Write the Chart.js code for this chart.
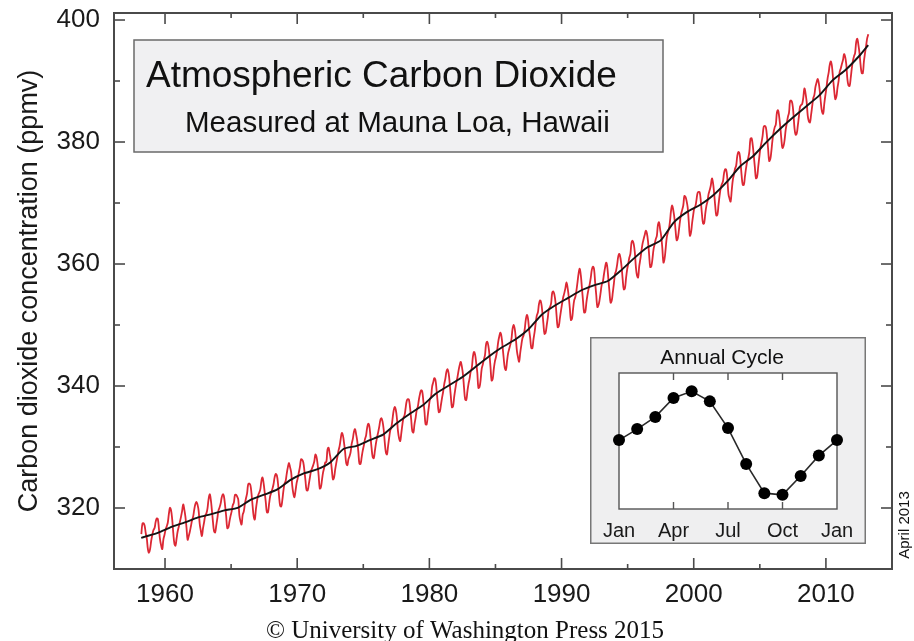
<!DOCTYPE html>
<html><head><meta charset="utf-8">
<script src="https://cdn.jsdelivr.net/npm/chart.js@4.4.1/dist/chart.umd.min.js"></script>
<style>
html,body{margin:0;padding:0;background:#fff;}
#wrap{position:relative;width:914px;height:641px;overflow:hidden;}
#main{position:absolute;left:0;top:0;}
#inset{position:absolute;left:590px;top:337px;}
</style></head><body>
<div id="wrap"><canvas id="main" width="914" height="641"></canvas><canvas id="inset" width="276" height="207"></canvas></div>
<script>
// ---------------- DATA ----------------
// Monthly mean CO2 at Mauna Loa (ppmv), starting March 1958
const monthlyStartYear = 1958;
const monthlyStartMonth = 3;
const co2Monthly = [
  315.71, 317.45, 317.50, 317.10, 315.86, 314.93, 313.20, 312.66, 313.33, 314.67,
  315.62, 316.38, 316.71, 317.72, 318.29, 318.15, 316.54, 314.80, 313.84, 313.26, 314.80, 315.58,
  316.43, 316.97, 317.58, 319.02, 320.03, 319.59, 318.18, 315.91, 314.16, 313.83, 315.00, 316.19,
  316.93, 317.70, 318.54, 319.48, 320.58, 319.77, 318.57, 316.79, 314.80, 315.38, 316.10, 317.01,
  317.94, 318.56, 319.68, 320.63, 321.01, 320.55, 319.58, 317.40, 316.26, 315.42, 316.69, 317.69,
  318.74, 319.08, 319.86, 321.39, 322.25, 321.47, 319.74, 317.77, 316.21, 315.99, 317.12, 318.31,
  319.57, 320.07, 320.73, 321.77, 322.25, 321.89, 320.44, 318.70, 316.70, 316.79, 317.79, 318.71,
  319.44, 320.44, 320.89, 322.13, 322.16, 321.87, 321.39, 318.81, 317.81, 317.30, 318.87, 319.42,
  320.62, 321.59, 322.39, 323.87, 324.01, 323.75, 322.39, 320.37, 318.64, 318.10, 319.79, 321.08,
  322.07, 322.50, 323.04, 324.42, 325.00, 324.09, 322.55, 320.92, 319.31, 319.31, 320.72, 321.96,
  322.57, 323.15, 323.89, 325.02, 325.57, 325.36, 324.14, 322.03, 320.41, 320.25, 321.31, 322.84,
  324.00, 324.42, 325.64, 326.66, 327.38, 326.70, 325.89, 323.67, 322.38, 321.78, 322.85, 324.11,
  324.89, 325.82, 326.77, 327.97, 327.91, 327.50, 326.18, 324.53, 322.93, 322.90, 323.85, 324.96,
  326.01, 326.51, 327.01, 327.62, 328.76, 328.40, 327.20, 325.27, 323.20, 323.40, 324.63, 325.85,
  326.60, 327.47, 327.58, 329.56, 329.90, 328.92, 327.88, 326.16, 324.68, 325.04, 326.34, 327.39,
  328.37, 329.40, 330.14, 331.33, 332.31, 331.90, 330.70, 329.15, 327.35, 327.02, 327.99, 328.48,
  329.18, 330.55, 331.32, 332.48, 332.92, 332.08, 331.01, 329.23, 327.27, 327.21, 328.29, 329.41,
  330.23, 331.25, 331.87, 333.14, 333.80, 333.43, 331.73, 329.90, 328.40, 328.17, 329.32, 330.59,
  331.58, 332.39, 333.33, 334.41, 334.71, 334.17, 332.89, 330.77, 329.14, 328.78, 330.14, 331.52,
  332.75, 333.24, 334.53, 335.90, 336.57, 336.10, 334.76, 332.59, 331.42, 330.98, 332.24, 333.68,
  334.80, 335.22, 336.47, 337.59, 337.84, 337.72, 336.37, 334.51, 332.60, 332.38, 333.75, 334.78,
  336.05, 336.59, 337.79, 338.71, 339.30, 339.12, 337.56, 335.92, 333.75, 333.70, 335.12, 336.56,
  337.84, 338.19, 339.91, 340.60, 341.29, 341.00, 339.39, 337.43, 335.72, 335.84, 336.93, 338.04,
  339.06, 340.30, 341.21, 342.33, 342.74, 342.08, 340.32, 338.26, 336.52, 336.68, 338.19, 339.44,
  340.57, 341.44, 342.53, 343.39, 343.96, 343.18, 341.88, 339.65, 337.81, 337.69, 339.09, 340.32,
  341.20, 342.35, 342.93, 344.77, 345.58, 345.14, 343.81, 342.21, 339.69, 339.82, 340.98, 342.82,
  343.52, 344.33, 345.11, 346.88, 347.25, 346.62, 345.22, 343.11, 340.90, 341.17, 342.80, 344.04,
  344.79, 345.82, 347.25, 348.17, 348.74, 348.07, 346.38, 344.51, 342.92, 342.62, 344.06, 345.38,
  346.11, 346.78, 347.68, 349.37, 350.03, 349.37, 347.76, 345.73, 344.68, 343.99, 345.48, 346.72,
  347.84, 348.29, 349.23, 350.80, 351.66, 351.07, 349.33, 347.92, 346.27, 346.18, 347.64, 348.78,
  350.25, 351.54, 352.05, 353.41, 354.04, 353.62, 352.22, 350.27, 348.55, 348.72, 349.91, 351.18,
  352.60, 352.92, 353.53, 355.26, 355.52, 354.97, 353.75, 351.52, 349.64, 349.83, 351.14, 352.37,
  353.50, 354.55, 355.23, 356.04, 357.00, 356.07, 354.67, 352.76, 350.82, 351.04, 352.69, 354.07,
  354.59, 355.63, 357.03, 358.48, 359.22, 358.12, 356.06, 353.92, 352.05, 352.11, 353.64, 354.89,
  355.88, 356.63, 357.72, 359.07, 359.58, 359.17, 356.94, 354.92, 352.94, 353.23, 354.09, 355.33,
  356.63, 357.10, 358.32, 359.41, 360.23, 359.55, 357.53, 355.48, 353.67, 353.95, 355.30, 356.78,
  358.34, 358.89, 359.95, 361.25, 361.67, 360.94, 359.55, 357.49, 355.84, 356.00, 357.59, 359.05,
  359.98, 361.03, 361.66, 363.48, 363.82, 363.30, 361.94, 359.50, 358.11, 357.80, 359.61, 360.74,
  362.09, 363.29, 364.06, 364.76, 365.45, 365.01, 363.70, 361.54, 359.51, 359.65, 360.80, 362.38,
  363.23, 364.06, 364.61, 366.40, 366.84, 365.68, 364.52, 362.57, 360.24, 360.83, 362.49, 364.34,
  365.17, 365.78, 367.10, 368.87, 369.59, 368.75, 367.49, 365.56, 363.90, 364.23, 365.46, 366.97,
  368.15, 368.87, 369.59, 371.14, 371.00, 370.35, 369.27, 366.93, 364.64, 365.13, 366.68, 368.00,
  369.14, 369.46, 370.52, 371.66, 371.82, 371.70, 370.12, 368.12, 366.62, 366.73, 368.29, 369.53,
  370.28, 371.50, 372.12, 372.87, 374.02, 373.30, 371.62, 369.55, 367.96, 368.09, 369.68, 371.24,
  372.44, 373.08, 373.52, 374.85, 375.55, 375.40, 374.02, 371.49, 370.71, 370.24, 372.08, 373.78,
  374.68, 375.62, 376.11, 377.65, 378.35, 378.13, 376.62, 374.50, 372.99, 373.00, 374.35, 375.70,
  376.79, 377.37, 378.41, 380.52, 380.63, 379.57, 377.79, 375.86, 374.06, 374.24, 375.86, 377.48,
  378.98, 379.91, 380.95, 382.48, 382.64, 382.40, 380.93, 378.93, 376.89, 377.19, 378.54, 380.31,
  381.58, 382.40, 382.86, 384.80, 385.22, 384.24, 382.65, 380.60, 379.04, 379.33, 380.35, 382.02,
  383.10, 384.12, 384.81, 386.73, 386.78, 386.33, 384.73, 382.24, 381.20, 381.37, 382.70, 384.19,
  385.78, 386.06, 386.28, 387.33, 388.78, 387.99, 386.61, 384.32, 383.41, 383.21, 384.41, 385.79,
  387.17, 387.70, 389.04, 389.76, 390.36, 389.70, 388.24, 386.29, 384.95, 384.64, 386.23, 387.63,
  388.91, 390.41, 391.37, 392.67, 393.21, 392.38, 390.41, 388.54, 387.03, 387.43, 388.87, 389.99,
  391.50, 392.05, 392.80, 393.44, 394.41, 393.95, 392.72, 390.33, 389.28, 389.19, 390.48, 392.06,
  393.31, 394.04, 394.59, 396.38, 396.93, 395.91, 394.56, 392.59, 391.32, 391.27, 393.20, 394.57,
  395.78, 397.03, 397.66
];

// Seasonally adjusted trend (black line): decimal years and values
const trendYears = [1958.2, 1958.5, 1959.5, 1960.5, 1961.5, 1962.5, 1963.5, 1964.5, 1965.5, 1966.5, 1967.5,
  1968.5, 1969.5, 1970.5, 1971.5, 1972.5, 1973.5, 1974.5, 1975.5, 1976.5, 1977.5,
  1978.5, 1979.5, 1980.5, 1981.5, 1982.5, 1983.5, 1984.5, 1985.5, 1986.5, 1987.5,
  1988.5, 1989.5, 1990.5, 1991.5, 1992.5, 1993.5, 1994.5, 1995.5, 1996.5, 1997.5,
  1998.5, 1999.5, 2000.5, 2001.5, 2002.5, 2003.5, 2004.5, 2005.5, 2006.5, 2007.5,
  2008.5, 2009.5, 2010.5, 2011.5, 2012.5, 2013.2];
const trendValues = [315.1, 315.3, 315.98, 316.91, 317.64, 318.45, 318.99, 319.62, 320.04, 321.37, 322.18,
  323.05, 324.62, 325.68, 326.32, 327.46, 329.68, 330.19, 331.13, 332.03, 333.84,
  335.41, 336.84, 338.76, 340.12, 341.48, 343.15, 344.85, 346.35, 347.61, 349.31,
  351.69, 353.20, 354.45, 355.70, 356.54, 357.21, 358.96, 360.97, 362.74, 363.88,
  366.84, 368.54, 369.71, 371.32, 373.45, 375.98, 377.70, 379.98, 382.09, 384.02,
  385.83, 387.64, 390.10, 391.85, 394.06, 395.9];

// Axis ticks
const xTickLabels = [1960, 1970, 1980, 1990, 2000, 2010];
const xMinorTicks = [1965, 1975, 1985, 1995, 2005];
const yTickLabels = [320, 340, 360, 380, 400];
const yMinorTicks = [330, 350, 370, 390];

// Inset: average annual cycle (ppmv deviation)
const insetMonths = ['Jan','Feb','Mar','Apr','May','Jun','Jul','Aug','Sep','Oct','Nov','Dec','Jan'];
const insetValues = [0.08, 0.74, 1.47, 2.6, 3.0, 2.4, 0.8, -1.35, -3.1, -3.2, -2.07, -0.85, 0.08];
const insetShownLabels = [0, 3, 6, 9, 12];
const insetTickMarks = [3, 6, 9];

// Texts
const titleText = 'Atmospheric Carbon Dioxide';
const subtitleText = 'Measured at Mauna Loa, Hawaii';
const yAxisTitle = 'Carbon dioxide concentration (ppmv)';
const insetTitle = 'Annual Cycle';
const stampText = 'April 2013';
const creditText = '\u00A9 University of Washington Press 2015';

// ---------------- BUILD ----------------
const SANS = '"Liberation Sans", Arial, Helvetica, sans-serif';
const SERIF = '"Liberation Serif", "DejaVu Serif", serif';
const monthlyPoints = co2Monthly.map((v, i) => ({ x: monthlyStartYear + (monthlyStartMonth - 1 + i + 0.5) / 12, y: v }));
const trendPoints = trendValues.map((v, i) => ({ x: trendYears[i], y: v }));

function seg(ctx, x1, y1, x2, y2) { ctx.beginPath(); ctx.moveTo(x1, y1); ctx.lineTo(x2, y2); ctx.stroke(); }

const mainDecor = {
  id: 'mainDecor',
  beforeDatasetsDraw(chart) {
    const ctx = chart.ctx;
    ctx.save();
    ctx.fillStyle = '#f0f0f2';
    ctx.strokeStyle = '#6a6a6a';
    ctx.lineWidth = 1.5;
    ctx.fillRect(134, 40, 529, 112);
    ctx.strokeRect(134, 40, 529, 112);
    ctx.fillStyle = '#111';
    ctx.textAlign = 'left';
    ctx.textBaseline = 'alphabetic';
    ctx.font = '37px ' + SANS;
    ctx.fillText(titleText, 146, 87);
    ctx.font = '29.5px ' + SANS;
    ctx.fillText(subtitleText, 185, 132);
    ctx.restore();
  },
  afterDatasetsDraw(chart) {
    const ctx = chart.ctx;
    const { left, right, top, bottom } = chart.chartArea;
    const xs = chart.scales.x, ys = chart.scales.y;
    ctx.save();
    ctx.strokeStyle = '#4a4a4a';
    ctx.lineWidth = 1.6;
    xTickLabels.forEach(v => { const p = xs.getPixelForValue(v); seg(ctx, p, bottom, p, bottom - 11); seg(ctx, p, top, p, top + 11); });
    xMinorTicks.forEach(v => { const p = xs.getPixelForValue(v); seg(ctx, p, bottom, p, bottom - 5); seg(ctx, p, top, p, top + 5); });
    yTickLabels.forEach(v => { const p = ys.getPixelForValue(v); seg(ctx, left, p, left + 11, p); seg(ctx, right, p, right - 11, p); });
    yMinorTicks.forEach(v => { const p = ys.getPixelForValue(v); seg(ctx, left, p, left + 6, p); seg(ctx, right, p, right - 6, p); });
    ctx.lineWidth = 2;
    ctx.strokeRect(left, top, right - left, bottom - top);
    ctx.restore();
  },
  afterDraw(chart) {
    const ctx = chart.ctx;
    ctx.save();
    ctx.fillStyle = '#111';
    ctx.font = '25px ' + SERIF;
    ctx.textAlign = 'center';
    ctx.textBaseline = 'alphabetic';
    ctx.fillText(creditText, 465, 638);
    ctx.translate(905, 525);
    ctx.rotate(-Math.PI / 2);
    ctx.font = '15px ' + SANS;
    ctx.textBaseline = 'middle';
    ctx.fillText(stampText, 0, 0);
    ctx.restore();
  }
};

new Chart(document.getElementById('main'), {
  type: 'line',
  data: {
    datasets: [
      { label: 'Monthly', data: monthlyPoints, borderColor: 'rgb(220,40,52)', borderWidth: 1.8, pointRadius: 0, tension: 0.4, order: 2 },
      { label: 'Trend', data: trendPoints, borderColor: '#141414', borderWidth: 1.9, pointRadius: 0, tension: 0.2, order: 1 }
    ]
  },
  options: {
    responsive: false,
    animation: false,
    events: [],
    layout: { padding: { top: 13, right: 22, left: 0, bottom: 0 } },
    plugins: { legend: { display: false }, tooltip: { enabled: false } },
    scales: {
      x: {
        type: 'linear', min: 1956.14, max: 2015,
        grid: { display: false }, border: { display: false },
        afterBuildTicks: s => { s.ticks = xTickLabels.map(v => ({ value: v })); },
        afterFit: s => { s.height = 72; s.paddingLeft = 0; s.paddingRight = 0; },
        ticks: { font: { family: SANS, size: 26 }, color: '#1a1a1a', padding: 2, maxRotation: 0, autoSkip: false, callback: v => String(v) }
      },
      y: {
        type: 'linear', min: 310, max: 401.15,
        grid: { display: false }, border: { display: false },
        afterBuildTicks: s => { s.ticks = yTickLabels.map(v => ({ value: v })); },
        afterFit: s => { s.width = 114; s.paddingTop = 0; s.paddingBottom = 0; },
        ticks: { font: { family: SANS, size: 26 }, color: '#1a1a1a', padding: 6, autoSkip: false, callback: v => String(v) },
        title: { display: true, text: yAxisTitle, font: { family: SANS, size: 27 }, color: '#1a1a1a', padding: { top: 13, bottom: 0 } }
      }
    }
  },
  plugins: [mainDecor]
});

// ---------------- INSET ----------------
const insetDecor = {
  id: 'insetDecor',
  beforeDraw(chart) {
    const ctx = chart.ctx;
    const { left, right, top, bottom } = chart.chartArea;
    ctx.save();
    ctx.fillStyle = '#efeff0';
    ctx.strokeStyle = '#777';
    ctx.lineWidth = 1.5;
    ctx.fillRect(0.75, 0.75, chart.width - 1.5, chart.height - 1.5);
    ctx.strokeRect(0.75, 0.75, chart.width - 1.5, chart.height - 1.5);
    ctx.fillStyle = '#fff';
    ctx.fillRect(left, top, right - left, bottom - top);
    ctx.restore();
  },
  beforeDatasetsDraw(chart) {
    const ctx = chart.ctx;
    const { left, right, top, bottom } = chart.chartArea;
    const xs = chart.scales.x;
    ctx.save();
    ctx.strokeStyle = '#555';
    ctx.lineWidth = 1.4;
    insetTickMarks.forEach(i => { const p = xs.getPixelForValue(i); seg(ctx, p, bottom, p, bottom - 7); seg(ctx, p, top, p, top + 7); });
    ctx.strokeRect(left, top, right - left, bottom - top);
    ctx.fillStyle = '#111';
    ctx.font = '21px ' + SANS;
    ctx.textAlign = 'center';
    ctx.textBaseline = 'middle';
    ctx.fillText(insetTitle, chart.width / 2 - 6, 21);
    ctx.restore();
  }
};

new Chart(document.getElementById('inset'), {
  type: 'line',
  data: {
    labels: insetMonths,
    datasets: [{ data: insetValues, borderColor: '#2a2a2a', borderWidth: 1.6, pointRadius: 6, pointBackgroundColor: '#000', pointBorderWidth: 0, tension: 0, clip: false }]
  },
  options: {
    responsive: false,
    animation: false,
    events: [],
    layout: { padding: { left: 29, right: 29, top: 36, bottom: 0 } },
    plugins: { legend: { display: false }, tooltip: { enabled: false } },
    scales: {
      x: {
        type: 'category', offset: false,
        grid: { display: false }, border: { display: false },
        afterFit: s => { s.height = 35; s.paddingLeft = 0; s.paddingRight = 0; },
        ticks: { font: { family: SANS, size: 20 }, color: '#1a1a1a', padding: 2, maxRotation: 0, autoSkip: false,
          callback: (v, i) => insetShownLabels.includes(i) ? insetMonths[i] : '' }
      },
      y: { display: false, min: -4.05, max: 4.1 }
    }
  },
  plugins: [insetDecor]
});
</script>
</body></html>
